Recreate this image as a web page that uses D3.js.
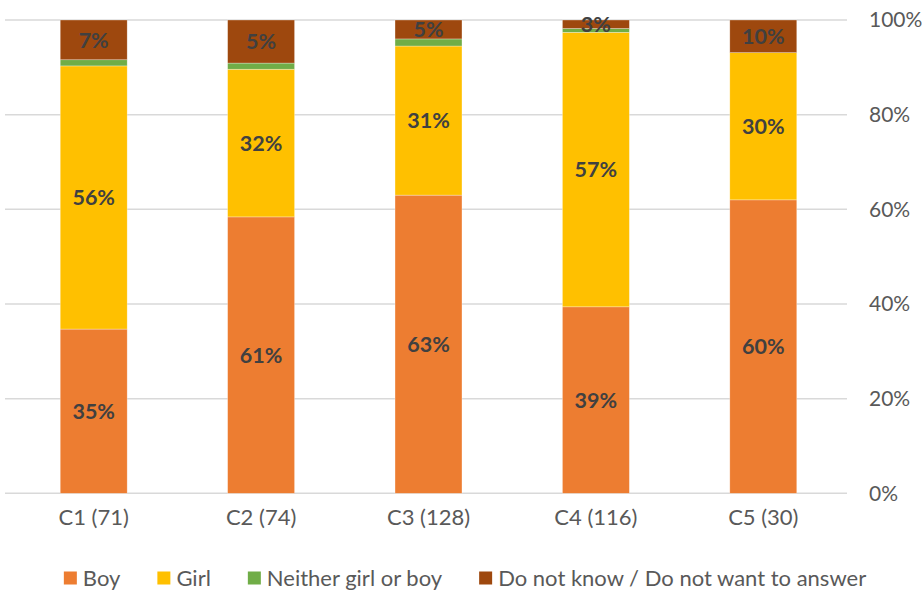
<!DOCTYPE html>
<html lang="en">
<head>
<meta charset="UTF-8">
<title>Gender by class</title>
<script src="https://cdn.jsdelivr.net/npm/d3@7"></script>
<style>
  body { margin: 0; background: #fff; }
  svg text { font-family: Lato, "Open Sans", sans-serif; }
</style>
</head>
<body>
<div id="chart"></div>
<script>
// data (bar heights in %, labels as printed)
var categories = ["C1 (71)", "C2 (74)", "C3 (128)", "C4 (116)", "C5 (30)"];
var seriesNames = ["Boy", "Girl", "Neither girl or boy", "Do not know / Do not want to answer"];
var boy     = [34.7, 58.4, 63.0, 39.4, 62.0];
var girl    = [55.6, 31.2, 31.5, 58.0, 31.1];
var neither = [1.3, 1.3, 1.5, 0.8, 0];
var dontKnow = [8.4, 9.1, 4.0, 1.8, 6.9];
var boyLabels  = ["35%", "61%", "63%", "39%", "60%"];
var girlLabels = ["56%", "32%", "31%", "57%", "30%"];
var dkLabels   = ["7%", "5%", "5%", "3%", "10%"];
var yTicks = [0, 20, 40, 60, 80, 100];

var colors = ["#ED7D31", "#FFC000", "#70AD47", "#9E480E"];
var width = 922, height = 591;

var svg = d3.select("#chart").append("svg")
    .attr("width", width)
    .attr("height", height);

var x = d3.scaleBand()
    .domain(categories)
    .range([10, 847])
    .paddingInner(0.6)
    .paddingOuter(0.3);

var y = d3.scaleLinear()
    .domain([0, 100])
    .range([493.3, 20]);

// gridlines
svg.append("g")
  .selectAll("line")
  .data(yTicks)
  .enter().append("line")
    .attr("x1", 5)
    .attr("x2", 847)
    .attr("y1", function(d){ return y(d); })
    .attr("y2", function(d){ return y(d); })
    .attr("stroke", "#D9D9D9")
    .attr("stroke-width", 1.5);

// right axis
var yAxis = svg.append("g")
    .attr("transform", "translate(869,0)")
    .call(d3.axisRight(y).tickValues(yTicks).tickSize(0).tickPadding(0)
      .tickFormat(function(d){ return d + "%"; }));
yAxis.select(".domain").remove();
yAxis.selectAll("text")
    .attr("fill", "#595959")
    .style("font-size", "21px");

// stacked rows
var rows = categories.map(function(c, i) {
  return { cat: c, Boy: boy[i], Girl: girl[i], Neither: neither[i], DK: dontKnow[i],
           labels: [boyLabels[i], girlLabels[i], null, dkLabels[i]] };
});
var keys = ["Boy", "Girl", "Neither", "DK"];
var stacked = d3.stack().keys(keys)(rows);

var layers = svg.append("g")
  .selectAll("g")
  .data(stacked)
  .enter().append("g")
    .attr("fill", function(d, i){ return colors[i]; });

layers.selectAll("rect")
  .data(function(d){ return d; })
  .enter().append("rect")
    .attr("x", function(d){ return x(d.data.cat); })
    .attr("width", x.bandwidth())
    .attr("y", function(d){ return y(d[1]); })
    .attr("height", function(d){ return y(d[0]) - y(d[1]); })
    .attr("stroke", "#fff")
    .attr("stroke-opacity", 0.5)
    .attr("stroke-width", 0.6);

// data labels
stacked.forEach(function(layer, li) {
  svg.append("g")
    .selectAll("text")
    .data(layer.filter(function(d){ return d.data.labels[li]; }))
    .enter().append("text")
      .attr("x", function(d){ return x(d.data.cat) + x.bandwidth() / 2; })
      .attr("y", function(d){ return (y(d[0]) + y(d[1])) / 2; })
      .attr("dy", "0.36em")
      .attr("text-anchor", "middle")
      .attr("fill", "#404040")
      .style("font-size", "21.5px")
      .style("font-weight", "bold")
      .text(function(d){ return d.data.labels[li]; });
});

// category labels
var xAxis = svg.append("g")
    .attr("transform", "translate(0,509)")
    .call(d3.axisBottom(x).tickSize(0).tickPadding(0));
xAxis.select(".domain").remove();
xAxis.selectAll("text")
    .attr("fill", "#595959")
    .attr("dy", "0.71em")
    .style("font-size", "22px");

// legend
var legend = svg.append("g");
var lx = 0;
seriesNames.forEach(function(name, i) {
  var item = legend.append("g").attr("transform", "translate(" + lx + ",0)");
  item.append("rect")
      .attr("x", 0).attr("y", -6.5)
      .attr("width", 13).attr("height", 13)
      .attr("fill", colors[i]);
  var t = item.append("text")
      .attr("x", 19)
      .attr("dy", "0.36em")
      .attr("fill", "#595959")
      .style("font-size", "22px")
      .text(name);
  lx += 19 + t.node().getComputedTextLength() + 37;
});
var legendWidth = lx - 37;
legend.attr("transform", "translate(" + (465 - legendWidth / 2) + ",578)");
</script>
</body>
</html>
